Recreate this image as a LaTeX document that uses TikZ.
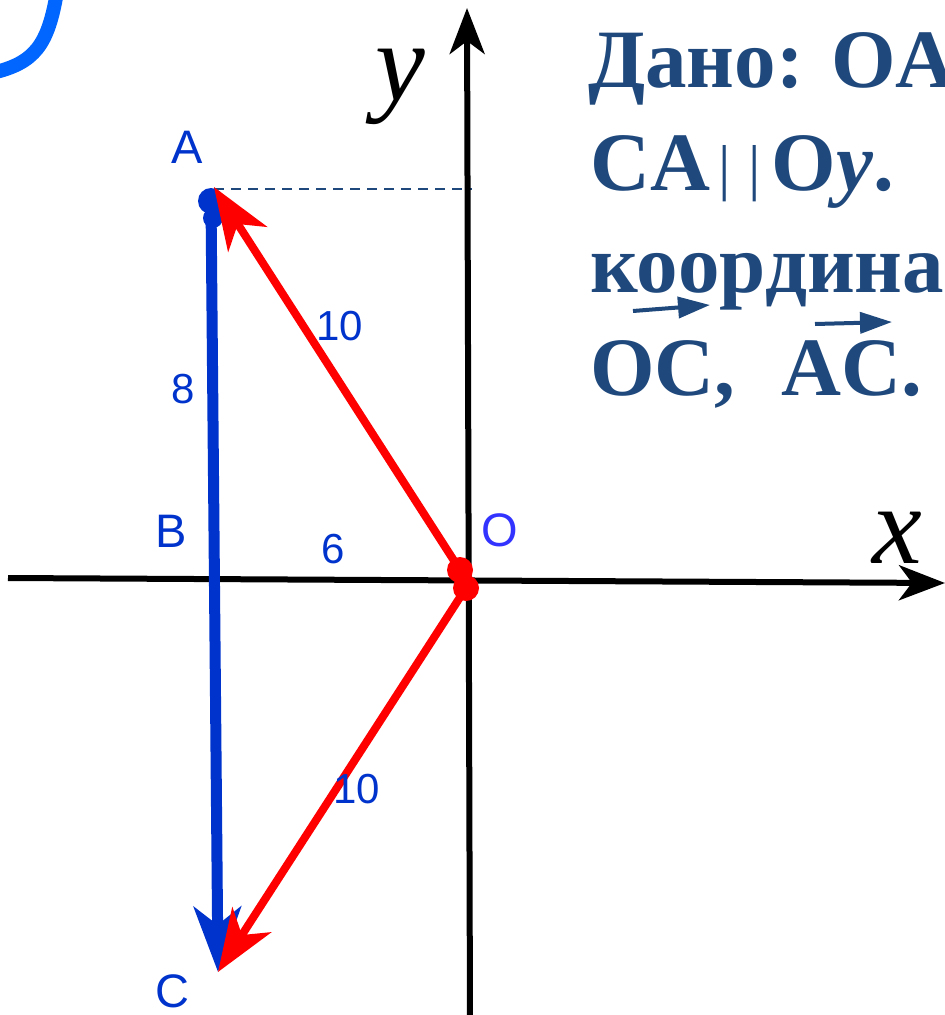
\documentclass[tikz,border=0pt]{standalone}
\usepackage{fontspec}
\setmainfont{Liberation Serif}
\newfontfamily\lsans{Liberation Sans}
\usetikzlibrary{arrows.meta}
\definecolor{ptblue}{RGB}{0,51,204}
\definecolor{oblue}{RGB}{51,51,255}
\definecolor{txtblue}{RGB}{31,73,125}
\definecolor{curveblue}{RGB}{0,102,255}
\definecolor{vred}{RGB}{255,0,0}
\newcommand{\thinbar}{{\mdseries\fontsize{62}{62}\selectfont\raisebox{2pt}{|}}}
\begin{document}
\begin{tikzpicture}[x=1pt,y=-1pt,
  lbl/.style={text=ptblue,font=\lsans\fontsize{47}{50}\selectfont,anchor=base,inner sep=0pt},
  olbl/.style={lbl,text=oblue},
  num/.style={text=ptblue,font=\lsans\fontsize{42}{46}\selectfont,anchor=base,inner sep=0pt},
  axislbl/.style={font=\fontsize{112}{112}\selectfont\itshape,anchor=base,inner sep=0pt},
  axisline/.style={black,line width=6pt,-{Stealth[length=46pt,width=35pt,inset=13pt]}},
  redvec/.style={vred,line width=8pt,-{Stealth[length=62pt,width=46pt,inset=18pt]}},
  bluevec/.style={ptblue,line width=11pt,-{Stealth[length=65pt,width=47pt,inset=18pt]}},
  bdot/.style={circle,fill=ptblue,inner sep=0pt},
  rdot/.style={circle,fill=vred,inner sep=0pt,minimum size=26pt},
  ttl/.style={text=txtblue,font=\fontsize{83}{103}\selectfont\bfseries,anchor=base west,inner sep=0pt},
  vecbar/.style={txtblue,line width=4pt,-{Triangle[length=32pt,width=21pt]}},
]
\useasboundingbox (0,0) rectangle (945,1015);

% decorative curve top-left
\draw[curveblue,line width=14pt] (57,-8) .. controls (48,45) and (35,63) .. (-8,73);

% helper line from A to y axis
\coordinate (dl1) at (214,189);
\coordinate (dl2) at (472,189);
\draw[txtblue,line width=2.5pt,dash pattern=on 10pt off 7pt] (dl1) -- (dl2);

% axes
\coordinate (xs) at (8,578);
\coordinate (xe) at (945,583);
\coordinate (ys) at (470,1022);
\coordinate (ye) at (467,8);
\draw[axisline] (xs) -- (xe);
\draw[axisline] (ys) -- (ye);
\node[axislbl] (ylab) at (400,100) {y};
\node[axislbl] (xlab) at (897,563) {x};

% points
\coordinate (A) at (211,201);
\coordinate (Atip) at (214,187);
\coordinate (Ctip) at (218,972);
\coordinate (O1) at (460,570);
\coordinate (O2) at (466,588);

% blue vector AC
\draw[bluevec] (A) -- (Ctip);
\node[bdot,minimum size=26pt] (dA) at (A) {};
\node[bdot,minimum size=20pt] (dA2) at (213,218) {};

% red vectors
\draw[redvec] (O1) -- (Atip);
\draw[redvec] (O2) -- (Ctip);
\node[rdot] (dO1) at (O1) {};
\node[rdot] (dO2) at (O2) {};

% labels
\node[lbl] (la) at (187,163) {A};
\node[lbl] (lb) at (171,547) {B};
\node[lbl] (lc) at (172,1007) {C};
\node[olbl] (lo) at (500,546) {O};
\node[num] (n8) at (183,403) {8};
\node[num] (n10a) at (340,340) {10};
\node[num] (n6) at (333,563) {6};
\node[num] (n10b) at (357,803) {10};

% text block
\node[ttl] (t1) at (588,87) {Дано: OA};
\node[ttl] (t2) at (590,190) {CA\hspace{8pt}\thinbar\hspace{18pt}\thinbar\hspace{11pt}O\textit{y}.};
\node[ttl] (t3) at (590,292) {координа};
\node[ttl] (t4) at (590,395) {OC,\hspace{46pt}AC.};
\coordinate (v1s) at (633,311);
\coordinate (v1e) at (710,305);
\coordinate (v2s) at (815,324);
\coordinate (v2e) at (892,322);
\draw[vecbar] (v1s) -- (v1e);
\draw[vecbar] (v2s) -- (v2e);
\end{tikzpicture}
\end{document}
